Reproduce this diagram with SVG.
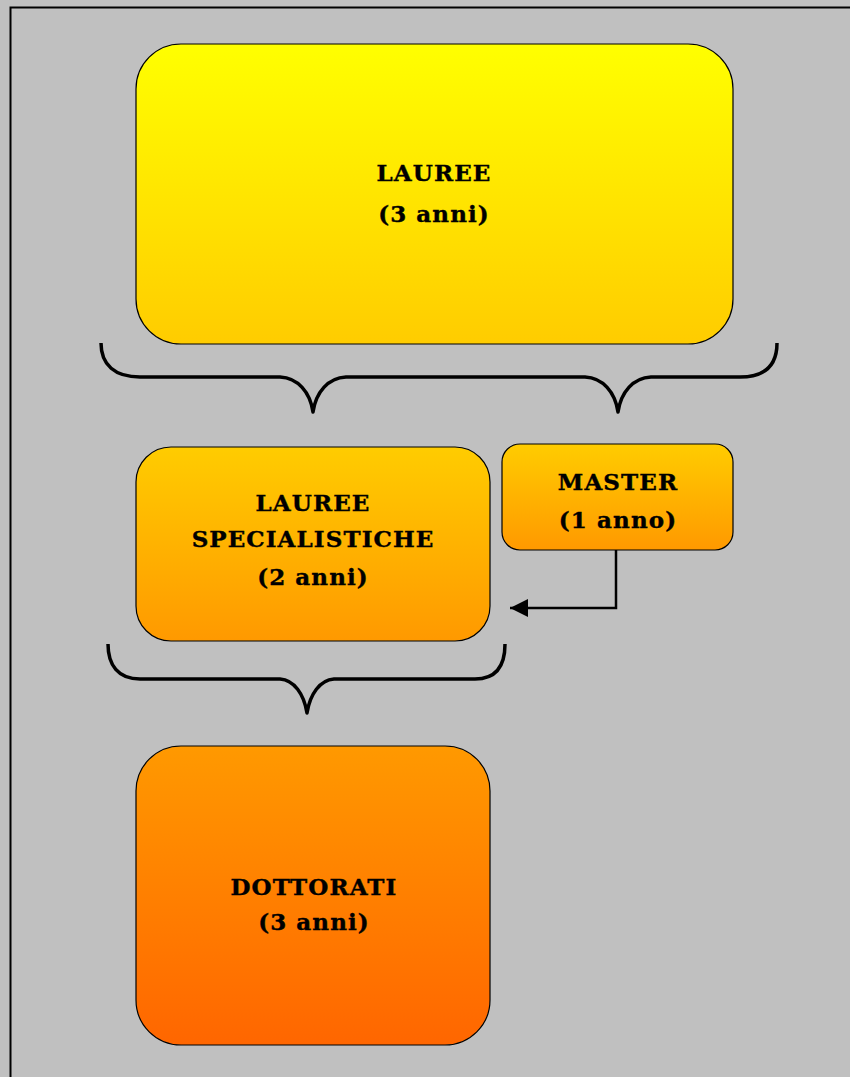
<svg xmlns="http://www.w3.org/2000/svg" width="850" height="1077" viewBox="0 0 850 1077">
<defs>
<linearGradient id="g1" x1="0" y1="0" x2="0" y2="1"><stop offset="0" stop-color="#FFFF00"/><stop offset="1" stop-color="#FFCC00"/></linearGradient>
<linearGradient id="g2" x1="0" y1="0" x2="0" y2="1"><stop offset="0" stop-color="#FFCC00"/><stop offset="1" stop-color="#FF9900"/></linearGradient>
<linearGradient id="g3" x1="0" y1="0" x2="0" y2="1"><stop offset="0" stop-color="#FF9900"/><stop offset="1" stop-color="#FF6600"/></linearGradient>
<marker id="arr" viewBox="0 0 10 10" refX="10" refY="5" markerWidth="22" markerHeight="18" markerUnits="userSpaceOnUse" orient="auto"><path d="M0,5 L10,0 L10,10 Z" fill="#000" transform="rotate(180 5 5)"/></marker>
<style>
.box{stroke:#000;stroke-width:1.2}
.t{font-family:"DejaVu Serif","Liberation Serif",serif;font-weight:bold;font-size:23px;letter-spacing:1.1px;fill:#000;stroke:#000;stroke-width:0.4;text-anchor:middle}
.br{fill:none;stroke:#000;stroke-width:3.5;stroke-linejoin:round}
</style>
</defs>
<rect x="0" y="0" width="850" height="1077" fill="#C0C0C0"/>
<rect x="10.5" y="7.5" width="850" height="1080" fill="none" stroke="#000" stroke-width="2"/>
<g id="lauree">
<rect class="box" x="136" y="44" width="597" height="300" rx="45" fill="url(#g1)"/>
<text class="t" x="434" y="181">LAUREE</text>
<text class="t" x="434" y="222">(3 anni)</text>
</g>
<g id="specialistiche">
<rect class="box" x="136" y="447" width="354" height="194" rx="35" fill="url(#g2)"/>
<text class="t" x="313" y="511">LAUREE</text>
<text class="t" x="313" y="547">SPECIALISTICHE</text>
<text class="t" x="313" y="585">(2 anni)</text>
</g>
<g id="master">
<rect class="box" x="502" y="444" width="231" height="106" rx="18" fill="url(#g2)"/>
<text class="t" x="618" y="490">MASTER</text>
<text class="t" x="618" y="528">(1 anno)</text>
</g>
<g id="dottorati">
<rect class="box" x="136" y="746" width="354" height="299" rx="45" fill="url(#g3)"/>
<text class="t" x="314" y="895">DOTTORATI</text>
<text class="t" x="314" y="930">(3 anni)</text>
</g>
<g id="connectors">
<path class="br" d="M101,343 C101,365 115,377 140,377 L280,377 C298,378 310,392 313,412 C316,392 328,378 346,377 L585,377 C603,378 615,392 618,412 C621,392 633,378 651,377 L740,377 C765,377 777,365 777,343"/>
<path class="br" d="M108,644 C108,665 118,679 140,679 L280,679 C294,680 304,694 307,713 C310,694 320,680 334,679 L475,679 C497,679 505,665 505,644"/>
<path d="M616,550 L616,608 L510,608" fill="none" stroke="#000" stroke-width="2.5" marker-end="url(#arr)"/>
</g>
</svg>
